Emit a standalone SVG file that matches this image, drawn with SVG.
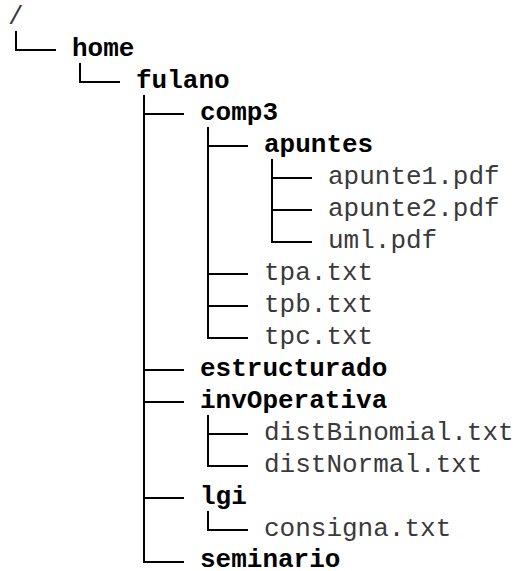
<svg xmlns="http://www.w3.org/2000/svg" width="520" height="571" viewBox="0 0 520 571">
<style>
text{font-family:"Liberation Mono","Courier New",monospace;font-size:26px}
.d{font-weight:bold;fill:#000}
.f{font-weight:normal;fill:#3a3a3a}
.c{fill:none;stroke:#000;stroke-width:2}
</style>
<rect width="520" height="571" fill="#fff"/>
<g id="connectors" class="c">
<path d="M16 31V50H56"/>
<path d="M80 63V82H120"/>
<path d="M144 95V562H184M144 114H184M144 370H184M144 402H184M144 498H184"/>
<path d="M208 127V338H248M208 146H248M208 274H248M208 306H248"/>
<path d="M272 159V242H312M272 178H312M272 210H312"/>
<path d="M208 415V466H248M208 434H248"/>
<path d="M208 511V530H248"/>
</g>
<g id="root"><text class="f" x="8" y="24">/</text></g>
<g id="home"><text class="d" x="72" y="56">home</text></g>
<g id="fulano"><text class="d" x="136" y="88">fulano</text></g>
<g id="comp3"><text class="d" x="200" y="120">comp3</text></g>
<g id="apuntes"><text class="d" x="264" y="152">apuntes</text></g>
<g id="apunte1"><text class="f" x="328" y="184">apunte1.pdf</text></g>
<g id="apunte2"><text class="f" x="328" y="216">apunte2.pdf</text></g>
<g id="uml"><text class="f" x="328" y="248">uml.pdf</text></g>
<g id="tpa"><text class="f" x="264" y="280">tpa.txt</text></g>
<g id="tpb"><text class="f" x="264" y="312">tpb.txt</text></g>
<g id="tpc"><text class="f" x="264" y="344">tpc.txt</text></g>
<g id="estructurado"><text class="d" x="200" y="376">estructurado</text></g>
<g id="invOperativa"><text class="d" x="200" y="408">invOperativa</text></g>
<g id="distBinomial"><text class="f" x="264" y="440">distBinomial.txt</text></g>
<g id="distNormal"><text class="f" x="264" y="472">distNormal.txt</text></g>
<g id="lgi"><text class="d" x="200" y="504">lgi</text></g>
<g id="consigna"><text class="f" x="264" y="536">consigna.txt</text></g>
<g id="seminario"><text class="d" x="200" y="567">seminario</text></g>
</svg>
